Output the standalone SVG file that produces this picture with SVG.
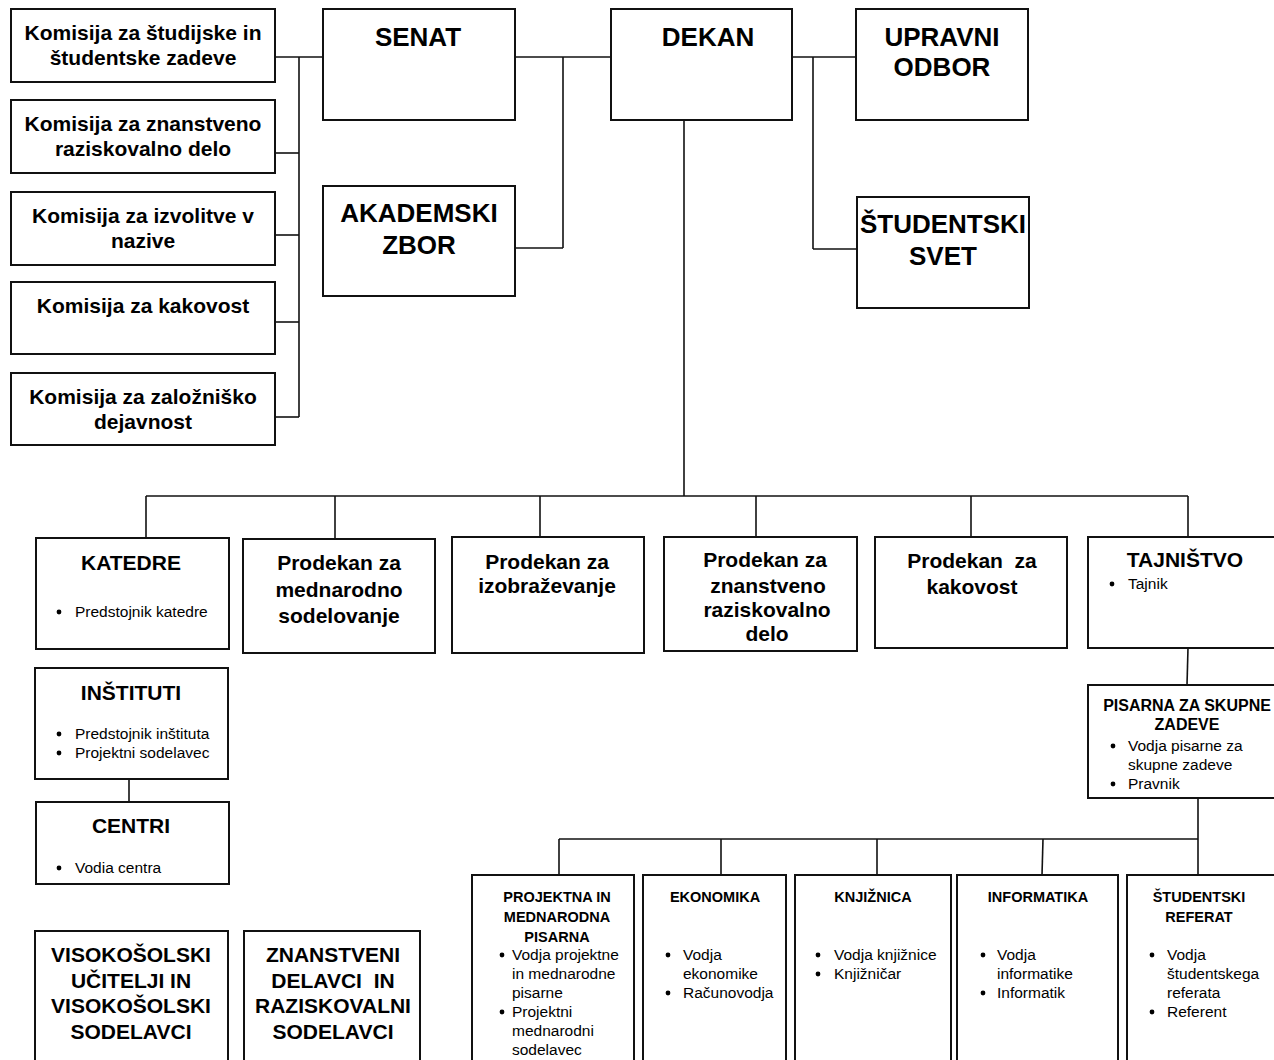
<svg xmlns="http://www.w3.org/2000/svg" width="1274" height="1060" viewBox="0 0 1274 1060">
<style>
rect.box{fill:#fff;stroke:#111;stroke-width:2}
.conn line{stroke:#111;stroke-width:1.6}
circle.bl{fill:#000}
text{font-family:"Liberation Sans",Arial,sans-serif;fill:#000}
.b21{font-size:21px;font-weight:bold;text-anchor:middle}
.b26{font-size:26px;font-weight:bold;text-anchor:middle}
.b14{font-size:14.5px;font-weight:bold;text-anchor:middle}
.b16{font-size:16px;font-weight:bold;text-anchor:middle}
.r{font-size:15.5px}
</style>
<rect width="1274" height="1060" fill="#fff"/>
<g class="conn">
<line x1="275" y1="57" x2="323" y2="57"/>
<line x1="299" y1="57" x2="299" y2="417"/>
<line x1="275" y1="153" x2="299" y2="153"/>
<line x1="275" y1="235" x2="299" y2="235"/>
<line x1="275" y1="322" x2="299" y2="322"/>
<line x1="275" y1="417" x2="299" y2="417"/>
<line x1="515" y1="57" x2="611" y2="57"/>
<line x1="563" y1="57" x2="563" y2="248"/>
<line x1="515" y1="248" x2="563" y2="248"/>
<line x1="792" y1="57" x2="856" y2="57"/>
<line x1="813" y1="57" x2="813" y2="249"/>
<line x1="813" y1="249" x2="857" y2="249"/>
<line x1="684" y1="120" x2="684" y2="496"/>
<line x1="146" y1="496" x2="1188" y2="496"/>
<line x1="146" y1="496" x2="146" y2="538"/>
<line x1="335" y1="496" x2="335" y2="539"/>
<line x1="540" y1="496" x2="540" y2="537"/>
<line x1="756" y1="496" x2="756" y2="537"/>
<line x1="971" y1="496" x2="971" y2="537"/>
<line x1="1188" y1="496" x2="1188" y2="537"/>
<line x1="1188" y1="648" x2="1187" y2="685"/>
<line x1="1198" y1="798" x2="1198" y2="839"/>
<line x1="559" y1="839" x2="1198" y2="839"/>
<line x1="559" y1="839" x2="559" y2="875"/>
<line x1="721" y1="839" x2="721" y2="875"/>
<line x1="877" y1="839" x2="877" y2="875"/>
<line x1="1043" y1="839" x2="1042" y2="875"/>
<line x1="1198" y1="839" x2="1198" y2="875"/>
<line x1="129" y1="779" x2="129" y2="802"/>
</g>
<g id="kom-studij"><rect class="box" x="11" y="9" width="264" height="73"/><text class="b21" x="143" y="40">Komisija za študijske in</text><text class="b21" x="143" y="65">študentske zadeve</text></g>
<g id="kom-znanost"><rect class="box" x="11" y="100" width="264" height="73"/><text class="b21" x="143" y="131">Komisija za znanstveno</text><text class="b21" x="143" y="156">raziskovalno delo</text></g>
<g id="kom-izvolitve"><rect class="box" x="11" y="192" width="264" height="73"/><text class="b21" x="143" y="223">Komisija za izvolitve v</text><text class="b21" x="143" y="248">nazive</text></g>
<g id="kom-kakovost"><rect class="box" x="11" y="282" width="264" height="72"/><text class="b21" x="143" y="313">Komisija za kakovost</text></g>
<g id="kom-zaloznisko"><rect class="box" x="11" y="373" width="264" height="72"/><text class="b21" x="143" y="404">Komisija za založniško</text><text class="b21" x="143" y="429">dejavnost</text></g>
<g id="senat"><rect class="box" x="323" y="9" width="192" height="111"/><text class="b26" x="418" y="46">SENAT</text></g>
<g id="akademski-zbor"><rect class="box" x="323" y="186" width="192" height="110"/><text class="b26" x="419" y="222">AKADEMSKI</text><text class="b26" x="419" y="254">ZBOR</text></g>
<g id="dekan"><rect class="box" x="611" y="9" width="181" height="111"/><text class="b26" x="708" y="46">DEKAN</text></g>
<g id="upravni-odbor"><rect class="box" x="856" y="9" width="172" height="111"/><text class="b26" x="942" y="46">UPRAVNI</text><text class="b26" x="942" y="76">ODBOR</text></g>
<g id="studentski-svet"><rect class="box" x="857" y="197" width="172" height="111"/><text class="b26" x="943" y="233">ŠTUDENTSKI</text><text class="b26" x="943" y="265">SVET</text></g>
<g id="katedre"><rect class="box" x="36" y="538" width="193" height="111"/><text class="b21" x="131" y="570">KATEDRE</text><circle class="bl" cx="59" cy="612" r="2.4"/><text class="r" x="75" y="617">Predstojnik katedre</text></g>
<g id="prodekan-mednarodno"><rect class="box" x="243" y="539" width="192" height="114"/><text class="b21" x="339" y="570">Prodekan za</text><text class="b21" x="339" y="597">mednarodno</text><text class="b21" x="339" y="623">sodelovanje</text></g>
<g id="prodekan-izobrazevanje"><rect class="box" x="452" y="537" width="192" height="116"/><text class="b21" x="547" y="569">Prodekan za</text><text class="b21" x="547" y="593">izobraževanje</text></g>
<g id="prodekan-znanost"><rect class="box" x="664" y="537" width="193" height="114"/><text class="b21" x="765" y="567">Prodekan za</text><text class="b21" x="768" y="593">znanstveno</text><text class="b21" x="767" y="617">raziskovalno</text><text class="b21" x="767" y="641">delo</text></g>
<g id="prodekan-kakovost"><rect class="box" x="875" y="537" width="192" height="111"/><text class="b21" x="972" y="568" xml:space="preserve">Prodekan  za</text><text class="b21" x="972" y="594">kakovost</text></g>
<g id="tajnistvo"><rect class="box" x="1088" y="537" width="200" height="111"/><text class="b21" x="1185" y="567">TAJNIŠTVO</text><circle class="bl" cx="1112" cy="584" r="2.4"/><text class="r" x="1128" y="589">Tajnik</text></g>
<g id="institutti"><rect class="box" x="35" y="668" width="193" height="111"/><text class="b21" x="131" y="700">INŠTITUTI</text><circle class="bl" cx="59" cy="734" r="2.4"/><text class="r" x="75" y="739">Predstojnik inštituta</text><circle class="bl" cx="59" cy="753" r="2.4"/><text class="r" x="75" y="758">Projektni sodelavec</text></g>
<g id="centri"><rect class="box" x="36" y="802" width="193" height="82"/><text class="b21" x="131" y="833">CENTRI</text><circle class="bl" cx="59" cy="868" r="2.4"/><text class="r" x="75" y="873">Vodia centra</text></g>
<g id="pisarna-skupne"><rect class="box" x="1088" y="685" width="200" height="113"/><text class="b16" x="1187" y="711">PISARNA ZA SKUPNE</text><text class="b16" x="1187" y="730">ZADEVE</text><circle class="bl" cx="1113" cy="746" r="2.4"/><text class="r" x="1128" y="751">Vodja pisarne za</text><text class="r" x="1128" y="770">skupne zadeve</text><circle class="bl" cx="1113" cy="784" r="2.4"/><text class="r" x="1128" y="789">Pravnik</text></g>
<g id="projektna-pisarna"><rect class="box" x="472" y="875" width="162" height="200"/><text class="b14" x="557" y="902">PROJEKTNA IN</text><text class="b14" x="557" y="922">MEDNARODNA</text><text class="b14" x="557" y="942">PISARNA</text><circle class="bl" cx="502" cy="955" r="2.4"/><text class="r" x="512" y="960">Vodja projektne</text><text class="r" x="512" y="979">in mednarodne</text><text class="r" x="512" y="998">pisarne</text><circle class="bl" cx="502" cy="1012" r="2.4"/><text class="r" x="512" y="1017">Projektni</text><text class="r" x="512" y="1036">mednarodni</text><text class="r" x="512" y="1055">sodelavec</text></g>
<g id="ekonomika"><rect class="box" x="643" y="875" width="143" height="200"/><text class="b14" x="715" y="902">EKONOMIKA</text><circle class="bl" cx="668" cy="955" r="2.4"/><text class="r" x="683" y="960">Vodja</text><text class="r" x="683" y="979">ekonomike</text><circle class="bl" cx="668" cy="993" r="2.4"/><text class="r" x="683" y="998">Računovodja</text></g>
<g id="knjiznica"><rect class="box" x="795" y="875" width="156" height="200"/><text class="b14" x="873" y="902">KNJIŽNICA</text><circle class="bl" cx="818" cy="955" r="2.4"/><text class="r" x="834" y="960">Vodja knjižnice</text><circle class="bl" cx="818" cy="974" r="2.4"/><text class="r" x="834" y="979">Knjižničar</text></g>
<g id="informatika"><rect class="box" x="957" y="875" width="161" height="200"/><text class="b14" x="1038" y="902">INFORMATIKA</text><circle class="bl" cx="983" cy="955" r="2.4"/><text class="r" x="997" y="960">Vodja</text><text class="r" x="997" y="979">informatike</text><circle class="bl" cx="983" cy="993" r="2.4"/><text class="r" x="997" y="998">Informatik</text></g>
<g id="studentski-referat"><rect class="box" x="1127" y="875" width="160" height="200"/><text class="b14" x="1199" y="902">ŠTUDENTSKI</text><text class="b14" x="1199" y="922">REFERAT</text><circle class="bl" cx="1152" cy="955" r="2.4"/><text class="r" x="1167" y="960">Vodja</text><text class="r" x="1167" y="979">študentskega</text><text class="r" x="1167" y="998">referata</text><circle class="bl" cx="1152" cy="1012" r="2.4"/><text class="r" x="1167" y="1017">Referent</text></g>
<g id="visokosolski"><rect class="box" x="35" y="931" width="193" height="150"/><text class="b21" x="131" y="962">VISOKOŠOLSKI</text><text class="b21" x="131" y="988">UČITELJI IN</text><text class="b21" x="131" y="1013">VISOKOŠOLSKI</text><text class="b21" x="131" y="1039">SODELAVCI</text></g>
<g id="znanstveni"><rect class="box" x="244" y="931" width="176" height="150"/><text class="b21" x="333" y="962">ZNANSTVENI</text><text class="b21" x="333" y="988" xml:space="preserve">DELAVCI  IN</text><text class="b21" x="333" y="1013">RAZISKOVALNI</text><text class="b21" x="333" y="1039">SODELAVCI</text></g>
</svg>
